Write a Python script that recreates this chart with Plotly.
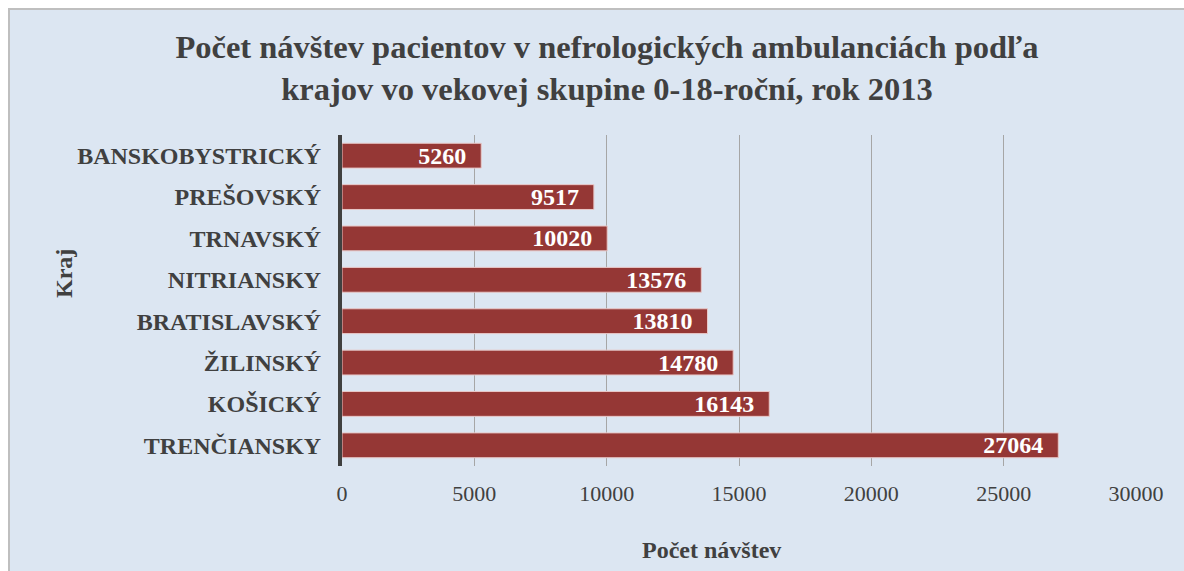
import plotly.graph_objects as go

categories = ["BANSKOBYSTRICKÝ", "PREŠOVSKÝ", "TRNAVSKÝ", "NITRIANSKY",
              "BRATISLAVSKÝ", "ŽILINSKÝ", "KOŠICKÝ", "TRENČIANSKY"]
values = [5260, 9517, 10020, 13576, 13810, 14780, 16143, 27064]
x_ticks = [0, 5000, 10000, 15000, 20000, 25000, 30000]

W, H = 1184, 571
L, R, T, B = 342, 48, 135, 105
pw, ph = W - L - R, H - T - B

def px_to_paper_x(px):
    return (px - L) / pw

def px_to_paper_y(py):
    return (H - B - py) / ph

FONT = "Liberation Serif"
DARK = "#404040"

fig = go.Figure()
fig.add_trace(go.Bar(
    y=categories, x=values, orientation="h",
    marker=dict(color="#953735", line=dict(color="#E8C8C8", width=1)),
    text=[f"{v}\u00a0\u00a0" for v in values],
    textposition="inside", insidetextanchor="end",
    textfont=dict(family=FONT, size=24, color="white", weight="bold"),
    cliponaxis=False, hoverinfo="skip",
))

fig.add_shape(type="rect", xref="paper", yref="paper",
              x0=px_to_paper_x(9), x1=px_to_paper_x(W + 20),
              y0=px_to_paper_y(H + 20), y1=px_to_paper_y(9),
              fillcolor="#DCE6F2", line=dict(color="#BFBFBF", width=2),
              layer="below")

fig.update_layout(
    width=W, height=H,
    margin=dict(l=L, r=R, t=T, b=B),
    paper_bgcolor="white", plot_bgcolor="rgba(0,0,0,0)",
    bargap=0.4, showlegend=False,
    uniformtext=dict(minsize=24, mode="show"),
    title=dict(
        text="Počet návštev pacientov v nefrologických ambulanciách podľa<br>krajov vo vekovej skupine 0-18-roční, rok 2013",
        x=607 / W, xanchor="center", xref="container",
        y=1 - 58 / H, yanchor="middle", yref="container",
        font=dict(family=FONT, size=32.5, color=DARK, weight="bold"),
    ),
    xaxis=dict(range=[0, 30000], tickvals=x_ticks, ticktext=[str(t) for t in x_ticks],
               showgrid=True, gridcolor="#A6A6A6", gridwidth=1, zeroline=False,
               showline=False, ticks="", ticklabelstandoff=12,
               tickfont=dict(family=FONT, size=22, color=DARK)),
    yaxis=dict(autorange="reversed", showline=True, linecolor=DARK, linewidth=4,
               ticks="", ticklabelstandoff=12, showgrid=False,
               tickfont=dict(family=FONT, size=24, color=DARK, weight="bold")),
    annotations=[
        dict(text="Počet návštev", xref="paper", yref="paper",
             x=px_to_paper_x(711), y=px_to_paper_y(550),
             xanchor="center", yanchor="middle", showarrow=False,
             font=dict(family=FONT, size=24, color=DARK, weight="bold")),
        dict(text="Kraj", xref="paper", yref="paper",
             x=px_to_paper_x(64), y=px_to_paper_y(274),
             xanchor="center", yanchor="middle", showarrow=False, textangle=-90,
             font=dict(family=FONT, size=24, color=DARK, weight="bold")),
    ],
)

fig.write_html("out.html", config={"displayModeBar": False},
               post_script="document.body.style.margin='0';document.body.style.overflow='hidden';")
